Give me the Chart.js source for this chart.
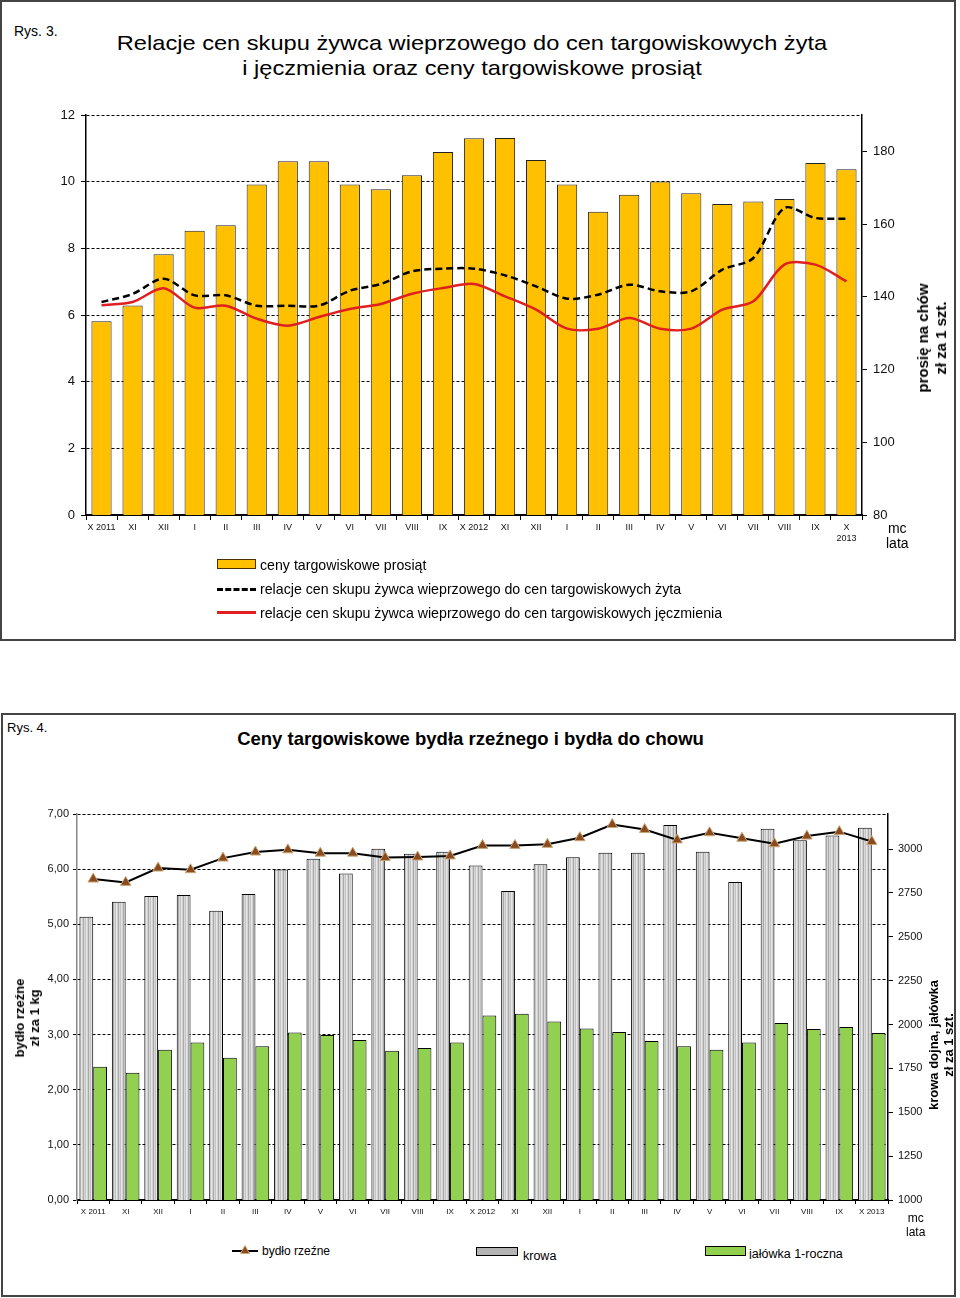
<!DOCTYPE html>
<html><head><meta charset="utf-8">
<script src="https://cdn.jsdelivr.net/npm/chart.js@4"></script>
<style>
body{margin:0;background:#fff;font-family:"Liberation Sans",Arial,sans-serif;color:#000;}
.abs{position:absolute;}
.box{position:absolute;border:2px solid #444;box-sizing:border-box;}
.rot{position:absolute;transform:translate(-50%,-50%) rotate(-90deg);white-space:nowrap;text-align:center;font-weight:bold;}
</style></head><body>
<script>
// ---------- Rys. 3 data ----------
const labels1 = ['X 2011','XI','XII','I','II','III','IV','V','VI','VII','VIII','IX','X 2012','XI','XII','I','II','III','IV','V','VI','VII','VIII','IX',['X','2013']];
const prosieta = [133.3,137.6,151.7,158.2,159.7,170.9,177.3,177.3,170.9,169.6,173.4,179.8,183.6,183.7,177.6,170.9,163.4,168.1,171.7,168.5,165.5,166.2,166.9,176.8,175.1];
const relZyto = [6.39,6.63,7.09,6.59,6.59,6.28,6.28,6.28,6.73,6.93,7.31,7.39,7.39,7.19,6.86,6.49,6.61,6.91,6.71,6.71,7.36,7.71,9.21,8.91,8.89];
const relJeczmien = [6.29,6.39,6.80,6.22,6.28,5.89,5.68,5.94,6.18,6.33,6.64,6.81,6.93,6.56,6.16,5.59,5.59,5.91,5.59,5.59,6.16,6.41,7.51,7.51,7.01];
const leftTicks1 = [0,12,2];        // min, max, step
const rightTicks1 = [80,190,20,180]; // min, max, step, last labelled tick

// ---------- Rys. 4 data ----------
const labels2 = ['X 2011','XI','XII','I','II','III','IV','V','VI','VII','VIII','IX','X 2012','XI','XII','I','II','III','IV','V','VI','VII','VIII','IX','X 2013'];
const bydloRzezne = [5.82,5.76,6.02,5.99,6.20,6.31,6.35,6.29,6.29,6.21,6.22,6.24,6.43,6.43,6.45,6.57,6.81,6.72,6.53,6.66,6.56,6.46,6.60,6.68,6.50];
const krowa = [2614,2700,2732,2738,2648,2744,2884,2945,2861,3002,2973,2985,2907,2761,2913,2953,2979,2979,3137,2985,2812,3116,3050,3078,3121];
const jalowka = [1760,1725,1857,1897,1811,1877,1955,1940,1912,1851,1866,1897,2052,2062,2017,1977,1957,1906,1877,1857,1897,2009,1974,1986,1952];
const leftTicks2 = [0,7,1];
const rightTicks2 = [1000,3200,250,3000];
</script>

<!-- Rys. 3 -->
<div class="box" style="left:0;top:0;width:956px;height:641px;"></div>
<div class="abs" style="left:14px;top:23px;font-size:14px;">Rys. 3.</div>
<div class="abs" style="left:0;width:944px;top:30px;text-align:center;font-size:21px;line-height:25px;transform:scaleX(1.125);transform-origin:472px 0;">Relacje cen skupu żywca wieprzowego do cen targowiskowych żyta<br>i jęczmienia oraz ceny targowiskowe prosiąt</div>
<div class="abs" style="left:0;top:100px;width:955px;height:460px;"><canvas id="c1"></canvas></div>
<div class="rot" style="left:932px;top:338px;font-size:15px;line-height:18px;">prosię na chów<br>zł za 1 szt.</div>
<div class="abs" style="left:886px;top:521px;font-size:14px;line-height:15px;text-align:center;">mc<br>lata</div>
<div class="abs" style="left:217px;top:559px;width:39px;height:10px;background:#ffc000;border:1.5px solid #4a3000;box-sizing:border-box;"></div>
<div class="abs" style="left:260px;top:557px;font-size:14.2px;">ceny targowiskowe prosiąt</div>
<div class="abs" style="left:217px;top:588px;width:39px;height:0;border-top:3px dashed #000;"></div>
<div class="abs" style="left:260px;top:581px;font-size:14.2px;">relacje cen skupu żywca wieprzowego do cen targowiskowych żyta</div>
<div class="abs" style="left:217px;top:611px;width:39px;height:3px;background:#e02020;"></div>
<div class="abs" style="left:260px;top:605px;font-size:14.2px;">relacje cen skupu żywca wieprzowego do cen targowiskowych jęczmienia</div>

<!-- Rys. 4 -->
<div class="box" style="left:1px;top:713px;width:955px;height:584px;"></div>
<div class="abs" style="left:7px;top:720px;font-size:13px;">Rys. 4.</div>
<div class="abs" style="left:0;width:941px;top:728px;text-align:center;font-size:18.5px;font-weight:bold;">Ceny targowiskowe bydła rzeźnego i bydła do chowu</div>
<div class="abs" style="left:0;top:790px;width:955px;height:440px;"><canvas id="c2"></canvas></div>
<div class="rot" style="left:27px;top:1018px;font-size:13px;line-height:15px;">bydło rzeźne<br>zł za 1 kg</div>
<div class="rot" style="left:941px;top:1045px;font-size:13px;line-height:15px;">krowa dojna, jałówka<br>zł za 1 szt.</div>
<div class="abs" style="left:906px;top:1211px;font-size:12px;line-height:14px;text-align:center;">mc<br>lata</div>
<div class="abs" style="left:232px;top:1250px;width:26px;height:2px;background:#000;"></div>
<svg class="abs" style="left:240px;top:1245px;" width="10" height="9"><polygon points="5,0.5 9.5,8.5 0.5,8.5" fill="#8b4a1e" stroke="#c8a878" stroke-width="1"/></svg>
<div class="abs" style="left:262px;top:1244px;font-size:12px;">bydło rzeźne</div>
<div class="abs" style="left:476px;top:1247px;width:42px;height:9px;background:#b4b4b4;border:1px solid #000;box-sizing:border-box;"></div>
<div class="abs" style="left:523px;top:1249px;font-size:12.5px;">krowa</div>
<div class="abs" style="left:705px;top:1246px;width:41px;height:10px;background:#92d050;border:1px solid #000;box-sizing:border-box;"></div>
<div class="abs" style="left:749px;top:1246px;height:13px;overflow:hidden;font-size:12.5px;line-height:17px;">jałówka 1-roczna</div>

<script>
const FONT = "'Liberation Sans', Arial, sans-serif";
Chart.defaults.font.family = FONT;
Chart.defaults.color = '#111';

function fixW(w){ return s => { s.width = w; }; }
function fixH(h){ return s => { s.height = h; }; }
function stepTicks(min, step, last){
  return s => { const t = []; for (let v = min; v <= last + 1e-9; v += step) t.push({value:v}); s.ticks = t; };
}

// Chart 1
new Chart(document.getElementById('c1'), {
  data: {
    labels: labels1,
    datasets: [
      { type:'line', label:'relacje cen skupu żywca wieprzowego do cen targowiskowych żyta', data: relZyto, yAxisID:'y',
        borderColor:'#000', borderWidth:2.5, borderDash:[7,4], pointRadius:0, tension:0.3, order:0 },
      { type:'line', label:'relacje cen skupu żywca wieprzowego do cen targowiskowych jęczmienia', data: relJeczmien, yAxisID:'y',
        borderColor:'#e02020', borderWidth:2.5, pointRadius:0, tension:0.3, order:0 },
      { type:'bar', label:'ceny targowiskowe prosiąt', data: prosieta, yAxisID:'y1',
        backgroundColor:'#ffc000', borderColor:'#222', borderWidth:1, barPercentage:0.65, categoryPercentage:1, order:1 }
    ]
  },
  options: {
    animation:false, responsive:true, maintainAspectRatio:false,
    layout:{ padding:{ top:15, left:0, right:0, bottom:0 } },
    plugins:{ legend:{display:false}, tooltip:{enabled:false} },
    scales:{
      x:{ grid:{ drawOnChartArea:false, drawTicks:true, tickLength:5, color:'#000', offset:true },
          border:{ color:'#000', width:2 },
          ticks:{ font:{size:9}, maxRotation:0, autoSkip:false, padding:2, color:'#111' },
          afterFit: fixH(45) },
      y:{ position:'left', min:leftTicks1[0], max:leftTicks1[1],
          ticks:{ stepSize:leftTicks1[2], font:{size:13}, padding:6, color:'#111' },
          grid:{ color:'#000', lineWidth:1, tickLength:5, drawTicks:true },
          border:{ color:'#000', width:1.5, dash:[3,2] },
          afterBuildTicks: stepTicks(leftTicks1[0], leftTicks1[2], leftTicks1[1]),
          afterFit: fixW(86) },
      y1:{ position:'right', min:rightTicks1[0], max:rightTicks1[1],
          ticks:{ stepSize:rightTicks1[2], font:{size:13}, padding:6, color:'#111', callback: v => String(v) },
          grid:{ drawOnChartArea:false, color:'#000', tickLength:5 },
          border:{ color:'#000', width:1.5 },
          afterBuildTicks: stepTicks(rightTicks1[0], rightTicks1[2], rightTicks1[3]),
          afterFit: fixW(93) }
    }
  }
});

// Chart 2
const pc = document.createElement('canvas'); pc.width = 5; pc.height = 4;
const pctx = pc.getContext('2d');
const stripes = ['#c4c4c4','#e6e6e6','#d2d2d2','#a9a9a9','#d8d8d8'];
stripes.forEach((c,i)=>{ pctx.fillStyle = c; pctx.fillRect(i,0,1,4); });
const ctx2 = document.getElementById('c2').getContext('2d');
const stripePattern = ctx2.createPattern(pc,'repeat');

new Chart(ctx2, {
  data: {
    labels: labels2,
    datasets: [
      { type:'line', label:'bydło rzeźne', data: bydloRzezne, yAxisID:'y',
        borderColor:'#000', borderWidth:2, tension:0, pointStyle:'triangle', pointRadius:6,
        pointBackgroundColor:'#8b4a1e', pointBorderColor:'#c8a878', pointBorderWidth:1, order:0 },
      { type:'bar', label:'krowa', data: krowa, yAxisID:'y1',
        backgroundColor: stripePattern, borderColor:'#000', borderWidth:1, barPercentage:1, categoryPercentage:0.85, order:1 },
      { type:'bar', label:'jałówka 1-roczna', data: jalowka, yAxisID:'y1',
        backgroundColor:'#92d050', borderColor:'#000', borderWidth:1, barPercentage:1, categoryPercentage:0.85, order:1 }
    ]
  },
  options: {
    animation:false, responsive:true, maintainAspectRatio:false,
    layout:{ padding:{ top:24, left:0, right:0, bottom:0 } },
    plugins:{ legend:{display:false}, tooltip:{enabled:false} },
    scales:{
      x:{ grid:{ drawOnChartArea:false, drawTicks:true, tickLength:4, color:'#000', offset:true },
          border:{ color:'#000', width:2 },
          ticks:{ font:{size:8}, maxRotation:0, autoSkip:false, padding:3, color:'#111' },
          afterFit: fixH(30) },
      y:{ position:'left', min:leftTicks2[0], max:leftTicks2[1],
          ticks:{ stepSize:leftTicks2[2], font:{size:11}, padding:4, color:'#111',
                  callback:v => v.toFixed(2).replace('.',',') },
          grid:{ color:'#000', lineWidth:1, tickLength:4 },
          border:{ color:'#888', width:1.5, dash:[3,2] },
          afterBuildTicks: stepTicks(leftTicks2[0], leftTicks2[2], leftTicks2[1]),
          afterFit: fixW(77) },
      y1:{ position:'right', min:rightTicks2[0], max:rightTicks2[1],
          ticks:{ stepSize:rightTicks2[2], font:{size:11}, padding:5, color:'#111', callback: v => String(v) },
          grid:{ drawOnChartArea:false, color:'#000', tickLength:5 },
          border:{ color:'#000', width:1.5 },
          afterBuildTicks: stepTicks(rightTicks2[0], rightTicks2[2], rightTicks2[3]),
          afterFit: fixW(67) }
    }
  }
});
</script>
</body></html>
